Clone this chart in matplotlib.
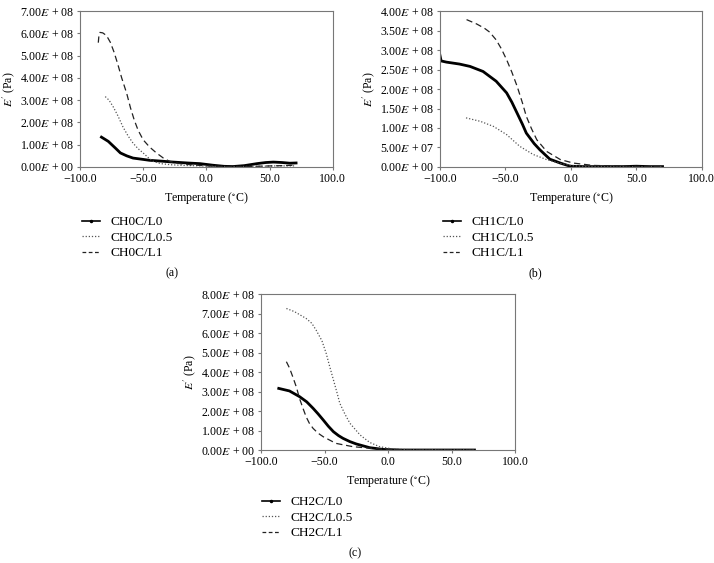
import matplotlib.pyplot as plt
from matplotlib.lines import Line2D

plt.rcParams['font.family'] = ['Liberation Serif', 'DejaVu Serif']
plt.rcParams['mathtext.fontset'] = 'stix'

# panel (a) CH0C
a_t0 = [-83, -77.6, -72, -68, -63, -58, -50, -45, -35, -26, -15, -5, 5, 14, 21, 30, 40, 47, 53, 60, 66, 71]
a_y0 = [1.34e8, 1.15e8, 0.85e8, 0.63e8, 0.5e8, 0.4e8, 0.34e8, 0.3e8, 0.26e8, 0.22e8, 0.18e8, 0.15e8, 0.08e8, 0.03e8, 0.02e8, 0.06e8, 0.15e8, 0.2e8, 0.22e8, 0.2e8, 0.17e8, 0.18e8]
a_t05 = [-80, -77, -73.7, -70, -66, -62, -58, -54, -50, -46, -42, -36, -28, -18, -5, 10, 25, 40, 55, 70]
a_y05 = [3.16e8, 3.0e8, 2.7e8, 2.3e8, 1.8e8, 1.4e8, 1.07e8, 0.82e8, 0.63e8, 0.42e8, 0.25e8, 0.15e8, 0.1e8, 0.07e8, 0.05e8, 0.02e8, 0.02e8, 0.03e8, 0.05e8, 0.05e8]
a_t1 = [-85.5, -85, -84.2, -82, -79, -76, -73, -70, -67, -63, -60, -57, -54, -50, -45, -39.5, -34, -29, -20, -10, 0, 15, 30, 45, 60, 70]
a_y1 = [5.58e8, 5.9e8, 6.04e8, 6.02e8, 5.9e8, 5.6e8, 5.15e8, 4.6e8, 4.0e8, 3.3e8, 2.65e8, 2.1e8, 1.65e8, 1.22e8, 0.9e8, 0.63e8, 0.4e8, 0.25e8, 0.14e8, 0.09e8, 0.05e8, 0.02e8, 0.02e8, 0.04e8, 0.06e8, 0.08e8]

# panel (b) CH1C
b_t0 = [-100, -99, -95, -85, -77, -67, -57, -49, -45, -41, -37, -34, -28, -23.6, -16, -8, -0.6, 10, 25, 40, 50, 60, 70]
b_y0 = [2.88e8, 2.72e8, 2.69e8, 2.64e8, 2.58e8, 2.45e8, 2.2e8, 1.9e8, 1.66e8, 1.38e8, 1.1e8, 0.87e8, 0.6e8, 0.44e8, 0.2e8, 0.1e8, 0.02e8, 0.01e8, 0.01e8, 0.01e8, 0.02e8, 0.01e8, 0.01e8]
b_t05 = [-80, -69, -59, -49, -39, -28.7, -18.5, -8, 2, 15, 30, 50, 70]
b_y05 = [1.26e8, 1.17e8, 1.04e8, 0.83e8, 0.53e8, 0.32e8, 0.19e8, 0.09e8, 0.03e8, 0.01e8, 0.01e8, 0.01e8, 0.01e8]
b_t1 = [-79.6, -72, -66, -62, -57, -53, -49, -45, -41, -37, -34, -30, -26, -18.5, -8, 2, 17, 43, 70]
b_y1 = [3.78e8, 3.67e8, 3.56e8, 3.46e8, 3.26e8, 3.03e8, 2.75e8, 2.43e8, 2.07e8, 1.65e8, 1.3e8, 0.98e8, 0.7e8, 0.4e8, 0.19e8, 0.1e8, 0.04e8, 0.02e8, 0.01e8]

# panel (c) CH2C
c_t0 = [-86, -77.6, -69.7, -64, -59, -55, -51, -47, -43, -39, -35.5, -30, -25, -14.5, -4, 10, 30, 50, 68]
c_y0 = [3.16e8, 3.03e8, 2.74e8, 2.47e8, 2.14e8, 1.85e8, 1.54e8, 1.22e8, 0.94e8, 0.74e8, 0.6e8, 0.43e8, 0.31e8, 0.12e8, 0.03e8, 0.0, 0.0, 0.0, 0.0]
c_t05 = [-80, -73.7, -64.5, -60, -56.6, -52, -48.7, -46, -43, -40, -38, -34, -30, -22, -14.5, -6.6, 4, 20, 40, 68]
c_y05 = [7.26e8, 7.1e8, 6.75e8, 6.5e8, 6.15e8, 5.6e8, 4.96e8, 4.3e8, 3.6e8, 2.9e8, 2.4e8, 1.85e8, 1.37e8, 0.77e8, 0.39e8, 0.17e8, 0.05e8, 0.01e8, 0.01e8, 0.01e8]
c_t1 = [-80, -77.5, -75, -72, -69.7, -67, -64.5, -62, -59, -55, -51, -41, -27.6, -12, -1.3, 20, 45, 68]
c_y1 = [4.53e8, 4.2e8, 3.76e8, 3.2e8, 2.65e8, 2.15e8, 1.71e8, 1.38e8, 1.11e8, 0.86e8, 0.68e8, 0.34e8, 0.17e8, 0.08e8, 0.03e8, 0.01e8, 0.01e8, 0.01e8]

a_labels = ['CH0C/L0', 'CH0C/L0.5', 'CH0C/L1']
b_labels = ['CH1C/L0', 'CH1C/L0.5', 'CH1C/L1']
c_labels = ['CH2C/L0', 'CH2C/L0.5', 'CH2C/L1']

x_ticks = [-100, -50, 0, 50, 100]
x_ticklabels = ['\u2212100.0', '\u221250.0', '0.0', '50.0', '100.0']


def ylab(v):
    m, e = '{:.2e}'.format(v).split('e')
    return m + '$E$ + ' + '{:02d}'.format(abs(int(e)))


def panel(rect, series, labels, ymax, ystep, tag, leg_xy, tag_xy):
    ax = fig.add_axes(rect)
    styles = [dict(color='black', lw=2.0, ls='-'),
              dict(color='#555555', lw=0.9, ls=(0, (1, 1.5))),
              dict(color='#222222', lw=0.9, ls=(0, (5, 3)))]
    for (t, y), st in zip(series, styles):
        ax.plot(t, y, **st)
    ax.set_xlim(-100, 100)
    ax.set_ylim(0, ymax)
    ax.set_xticks(x_ticks)
    ax.set_xticklabels(x_ticklabels)
    yt = [i * ystep for i in range(int(round(ymax / ystep)) + 1)]
    ax.set_yticks(yt)
    ax.set_yticklabels([ylab(v) for v in yt])
    ax.tick_params(labelsize=8.6, length=2, color='#777777', pad=2)
    for s in ax.spines.values():
        s.set_color('#777777')
        s.set_linewidth(0.8)
    ax.set_xlabel('Temperature ($^{\\circ}$C)', fontsize=8.6, labelpad=4)
    ax.set_ylabel("$E'$ (Pa)", fontsize=8.6, labelpad=2)
    handles = [Line2D([0], [0], color='black', lw=1.2, marker='.', markersize=3),
               Line2D([0], [0], color='#555555', lw=0.9, ls=(0, (1, 1.5))),
               Line2D([0], [0], color='#222222', lw=0.9, ls=(0, (3, 2)))]
    fig.legend(handles, labels, loc='upper left', bbox_to_anchor=leg_xy,
               frameon=False, fontsize=9.5, handlelength=1.4, handletextpad=0.75,
               labelspacing=0.25, borderaxespad=0, borderpad=0)
    fig.text(tag_xy[0], tag_xy[1], tag, fontsize=8.6, ha='center', va='center')
    return ax


fig = plt.figure(figsize=(7.14, 5.63), dpi=100)

panel([0.112, 0.7034, 0.354, 0.277], [(a_t0, a_y0), (a_t05, a_y05), (a_t1, a_y1)],
      a_labels, 7e8, 1e8, '(a)', (82 / 714, 1 - 216 / 563), (172 / 714, 1 - 273 / 563))
panel([0.616, 0.7034, 0.367, 0.277], [(b_t0, b_y0), (b_t05, b_y05), (b_t1, b_y1)],
      b_labels, 4e8, 0.5e8, '(b)', (443 / 714, 1 - 216 / 563), (535 / 714, 1 - 273 / 563))
panel([0.3655, 0.2007, 0.356, 0.277], [(c_t0, c_y0), (c_t05, c_y05), (c_t1, c_y1)],
      c_labels, 8e8, 1e8, '(c)', (262 / 714, 1 - 496 / 563), (355 / 714, 1 - 553 / 563))

fig.savefig('out.png', dpi=100, facecolor='white')
